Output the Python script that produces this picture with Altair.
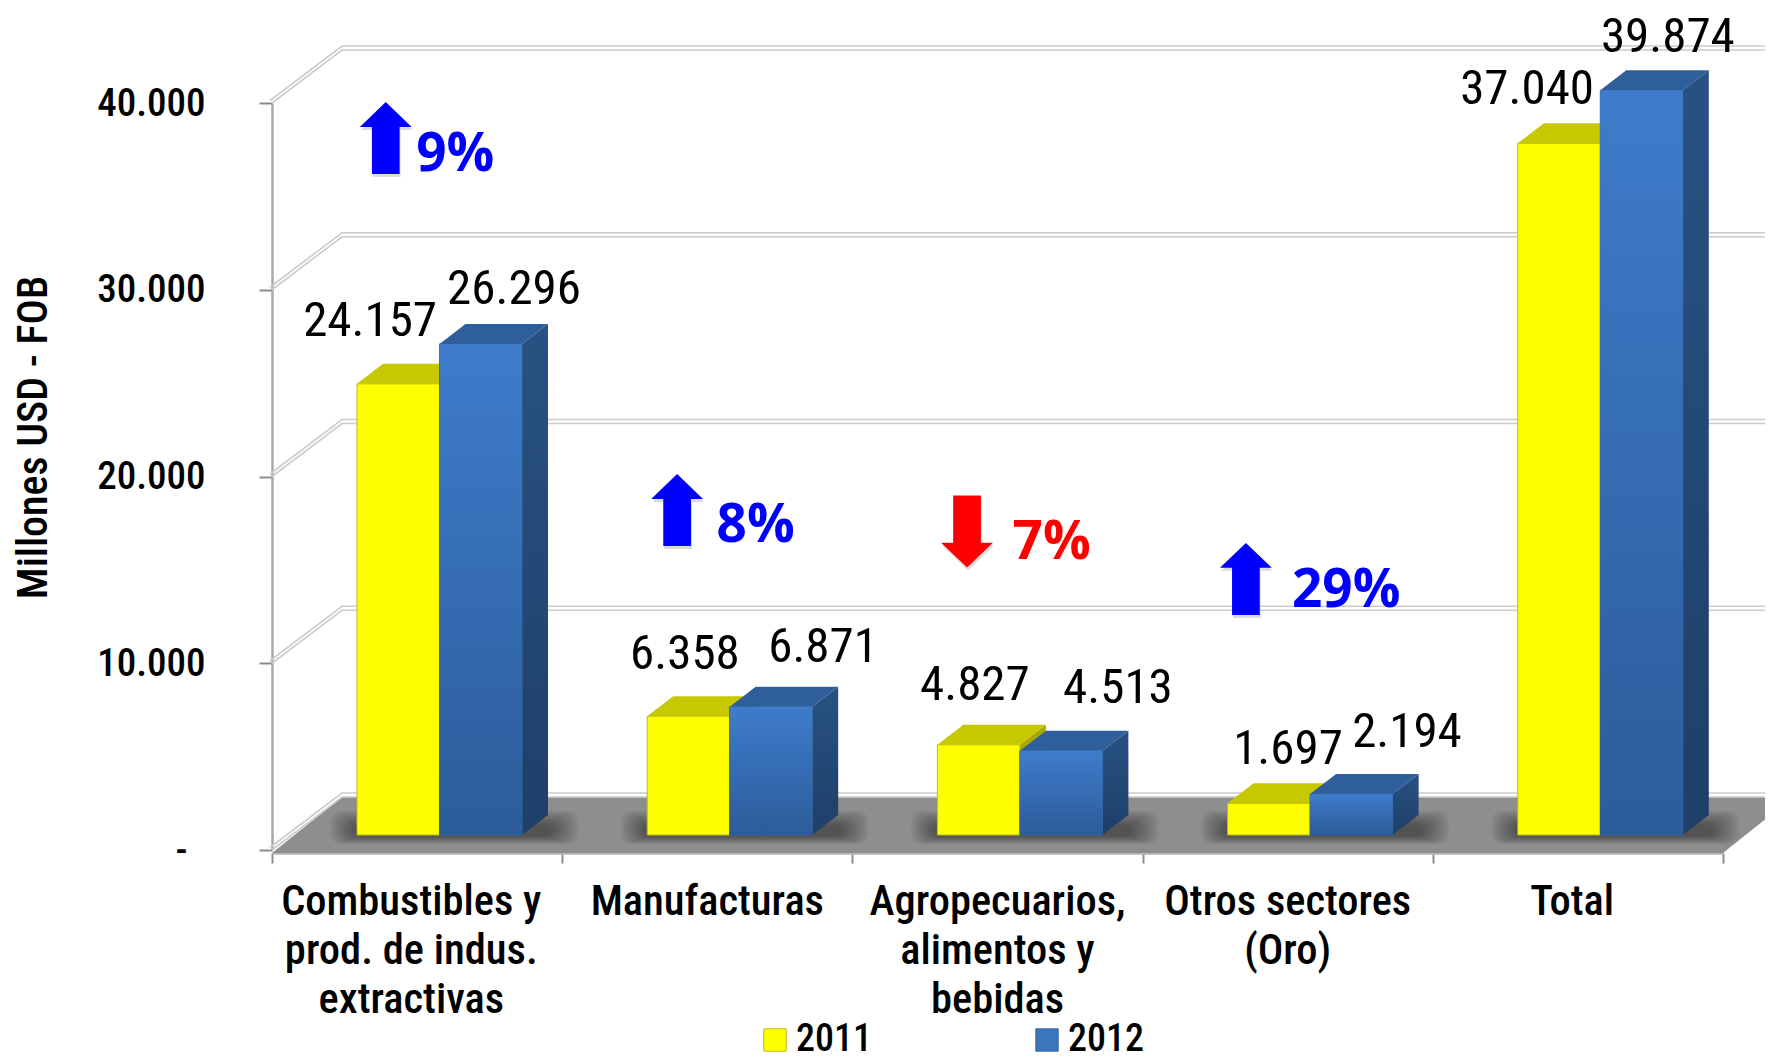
import altair as alt
import pandas as pd

# ---- values
categories = ["Combustibles y\nprod. de indus.\nextractivas", "Manufacturas",
              "Agropecuarios,\nalimentos y\nbebidas", "Otros sectores\n(Oro)", "Total"]
cat_label_x = [0.48, 1.5, 2.5, 3.5, 4.48]
v2011 = [24157, 6358, 4827, 1697, 37040]
v2012 = [26296, 6871, 4513, 2194, 39874]
lab2011 = ["24.157", "6.358", "4.827", "1.697", "37.040"]
lab2012 = ["26.296", "6.871", "4.513", "2.194", "39.874"]
lab2011_x = [0.338, 1.423, 2.422, 3.501, 4.325]
lab2011_y = [27500, 9700, 8040, 4610, 39950]
lab2012_x = [0.834, 1.899, 2.915, 3.911, 4.810]
lab2012_y = [29240, 10070, 7880, 5520, 42720]
pct_text = ["9%", "8%", "7%", "29%"]
pct_color = ["#0000ff", "#0000ff", "#ff0000", "#0000ff"]
pct_x = [0.497, 1.532, 2.552, 3.515]
pct_y = [36350, 16490, 15560, 13010]
arrow_dir = ["up", "up", "down", "up"]
arrow_x = [0.392, 1.396, 2.395, 3.356]
arrow_y = [38120, 18200, 17050, 14510]
ticks = [0, 10000, 20000, 30000, 40000]
series = ["2011", "2012"]

# ---- geometry of the fake 3-D box, in scale units
UX = 290.2                 # px per category
UY = 186.75 / 10000        # px per value unit
W, H = 5 * UX, 40000 * UY
px = lambda d: d / UX
pv = lambda d: d / UY
BASE = pv(15)
DX, DY = px(26), pv(20)
WALLX, WALLY = px(70), pv(53)
RIGHT = px(1773 - 272)
BAR0, BARW = px(85), px(82.5)

FONT = "Roboto Condensed"
PCT_FONT = "Open Sans"
xs = alt.Scale(domain=[0, 5], nice=False, zero=False)
ys = alt.Scale(domain=[0, 40000], nice=False, zero=False)

x_axis = alt.Axis(values=[0, 1, 2, 3, 4, 5], labels=False, grid=False, offset=3, tickSize=10, title=None,
                  domainColor="#b4b4b4", domainWidth=2.5, tickColor="#8c8c8c", tickWidth=2)
y_axis = alt.Axis(values=ticks, grid=False, tickSize=13, tickColor="#8c8c8c", tickWidth=2,
                  domainColor="#a8a8a8", domainWidth=2.5,
                  labelExpr="datum.value == 0 ? '-\u00a0\u00a0\u200b' : replace(format(datum.value, ',d'), ',', '.')",
                  labelFont=FONT, labelFontSize=39, labelFontWeight=500, labelColor="#000000",
                  labelPadding=54,
                  title="Millones USD - FOB", titleFont=FONT, titleFontSize=42, titleFontWeight=500,
                  titleColor="#000000", titleX=-239, titleY=334, titleAngle=-90,
                  titleAlign="center", titleBaseline="middle")


def X(f="x"):
    return alt.X(f"{f}:Q", scale=xs, axis=x_axis)


def Y(f="y"):
    return alt.Y(f"{f}:Q", scale=ys, axis=y_axis, stack=False)


grad = lambda a, b: alt.Gradient(gradient="linear", x1=0, y1=0, x2=0, y2=1,
                                 stops=[alt.GradientStop(color=a, offset=0), alt.GradientStop(color=b, offset=1)])


def area(points, color):
    return alt.Chart(pd.DataFrame(points)).mark_area(orient="vertical", color=color).encode(
        x=X(), y=Y(), y2=alt.Y2("y2:Q"))


# ---- bars tables and 3-D faces
rows = []
face_layers = []
for i in range(5):
    for s, val in enumerate((v2011[i], v2012[i])):
        x0 = i + BAR0 + s * BARW
        x1 = x0 + BARW
        t = val + BASE
        rows.append(dict(x=x0, x2=x1, y=t, y2=BASE, series=series[s], s=s))
        top = [dict(x=x0, y=t, y2=t), dict(x=x0 + DX, y=t + DY, y2=t),
               dict(x=x1, y=t + DY, y2=t), dict(x=x1 + DX, y=t + DY, y2=t + DY)]
        side = [dict(x=x1, y=t, y2=BASE), dict(x=x1 + DX, y=t + DY, y2=BASE + DY)]
        if s == 0:
            face_layers += [area(side, "#a8a800"), area(top, "#c8c800")]
        else:
            face_layers += [area(top, "#2e5f9b"), area(side, grad("#285283", "#1e3f68"))]
rows = pd.DataFrame(rows)

# ---- floor
floor = pd.DataFrame([
    dict(x=0, y=pv(-3), y2=pv(-3)),
    dict(x=WALLX, y=WALLY, y2=pv(-3)),
    dict(x=5, y=WALLY, y2=pv(-3)),
    dict(x=RIGHT, y=WALLY, y2=pv(-3 + 40)),
])
floor_layer = alt.Chart(floor).mark_area(color="#8e8e8e", orient="vertical").encode(
    x=X(), y=Y(), y2=alt.Y2("y2:Q"))

# ---- back wall: double lines
grid = []
for t in ticks:
    for name, sx, sy, by in (("a", 0, 0, 0), ("b", px(-2), pv(2.5), pv(4))):
        g = f"{t}{name}"
        grid.append(dict(g=g, o=0, x=sx, y=t + sy))
        grid.append(dict(g=g, o=1, x=WALLX, y=t + WALLY + by))
        grid.append(dict(g=g, o=2, x=RIGHT, y=t + WALLY + by))
grid_layer = alt.Chart(pd.DataFrame(grid)).mark_line(color="#cccccc", strokeWidth=1.6).encode(
    x=X(), y=Y(), detail="g:N", order="o:Q")

# ---- soft shadow on the floor
shadow = []
for i in range(5):
    for k in range(1, 11):
        shadow.append(dict(k=k, x=i + BAR0 - px(2.6 * k), x2=i + BAR0 + 2 * BARW + DX + px(3 * k),
                           y=BASE + pv(8 + 1.6 * k), y2=BASE - pv(0.9 * k)))
shadow_layer = alt.Chart(pd.DataFrame(shadow)).mark_rect(color="#202020", opacity=0.065, cornerRadius=10).encode(
    x=X(), x2=alt.X2("x2:Q"), y=Y(), y2=alt.Y2("y2:Q"))

front = alt.Chart(rows).mark_rect(strokeWidth=1).encode(
    x=X(), x2=alt.X2("x2:Q"), y=Y(), y2=alt.Y2("y2:Q"),
    color=alt.Color("series:N", scale=alt.Scale(domain=series, range=["#ffff00", "#3a75bd"]),
                    legend=alt.Legend(orient="none", legendX=484, legendY=918, direction="horizontal",
                                      columns=2, title=None, symbolType="square", symbolSize=500,
                                      symbolStrokeColor="#a0a0a0", symbolStrokeWidth=1,
                                      labelFont=FONT, labelFontSize=38, labelColor="#000000",
                                      labelFontWeight=500, columnPadding=156, labelOffset=2,
                                      symbolOpacity=1, labelLimit=0)),
    stroke=alt.Stroke("series:N", scale=alt.Scale(domain=series, range=["#bdbd10", "#34659f"]), legend=None),
)
front_b = alt.Chart(rows[rows.s == 1]).mark_rect(color=grad("#3e7ccb", "#2c5c9a")).encode(
    x=X(), x2=alt.X2("x2:Q"), y=Y(), y2=alt.Y2("y2:Q"))

# ---- labels
val_labels = pd.DataFrame(dict(x=lab2011_x + lab2012_x, y=lab2011_y + lab2012_y, t=lab2011 + lab2012))
val_layer = alt.Chart(val_labels).mark_text(font=FONT, fontSize=49, color="#000000", align="center",
                                            baseline="alphabetic").encode(x=X(), y=Y(), text="t:N")
cats = pd.DataFrame(dict(x=cat_label_x, y=[pv(-65)] * 5, t=categories))
cat_layer = alt.Chart(cats).mark_text(font=FONT, fontSize=42.5, fontWeight=500, color="#000000", align="center",
                                      baseline="alphabetic", lineBreak="\n", lineHeight=49).encode(
    x=X(), y=Y(), text="t:N")

pct = pd.DataFrame(dict(x=pct_x, y=pct_y, t=pct_text, c=pct_color))
pct_layer = alt.Chart(pct).mark_text(font=PCT_FONT, fontSize=53, fontWeight="bold", align="left",
                                     baseline="alphabetic").encode(
    x=X(), y=Y(), text="t:N", color=alt.Color("c:N", scale=None))

UP = "M0,-1L0.72,-0.31L0.385,-0.31L0.385,1L-0.385,1L-0.385,-0.31L-0.72,-0.31Z"
DOWN = "M0,1L0.72,0.31L0.385,0.31L0.385,-1L-0.385,-1L-0.385,0.31L-0.72,0.31Z"
arrows = pd.DataFrame(dict(x=arrow_x, y=arrow_y, d=arrow_dir, c=pct_color))


def arrow_layer(direction, path):
    df = arrows[arrows.d == direction]
    sh = df.assign(x=df.x + px(1), y=df.y - pv(3))
    return [
        alt.Chart(sh).mark_point(shape=path, filled=True, size=5184, color="#9a9a9a", opacity=0.35,
                                 strokeWidth=0).encode(x=X(), y=Y()),
        alt.Chart(df).mark_point(shape=path, filled=True, size=5184, opacity=1, strokeWidth=0).encode(
            x=X(), y=Y(), color=alt.Color("c:N", scale=None)),
    ]


layers = [floor_layer, grid_layer, shadow_layer] + face_layers + [front, front_b,
          val_layer, cat_layer, pct_layer] + arrow_layer("up", UP) + arrow_layer("down", DOWN)

chart = alt.layer(*layers).properties(
    width=W, height=H,
    padding=dict(left=264, top=95, right=42, bottom=210),
    autosize=alt.AutoSizeParams(type="none"),
    background="#ffffff",
).configure_view(stroke=None)

chart.save("out.html", embed_options={"renderer": "svg", "actions": False})
